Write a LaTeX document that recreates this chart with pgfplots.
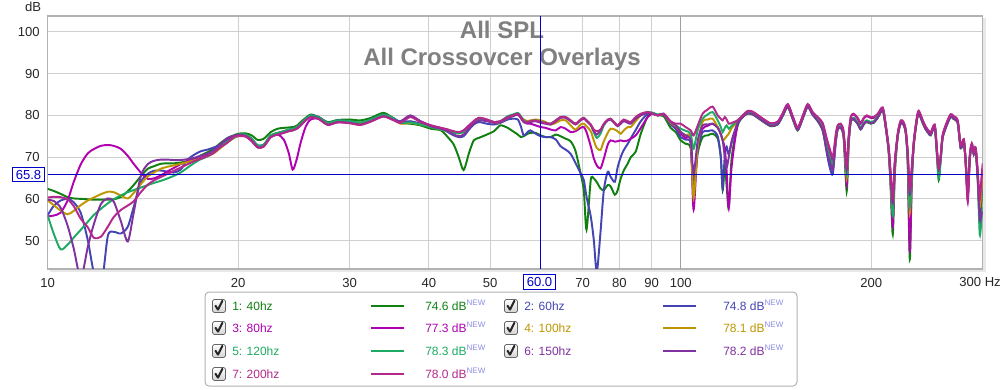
\documentclass[border=0pt]{standalone}
\usepackage{pgfplots}
\usepackage{pgfplotstable}
\pgfplotsset{compat=1.18}
\usepackage{fontspec}
\setmainfont{Liberation Sans}
\definecolor{c1}{RGB}{16,128,16}
\definecolor{c2}{RGB}{68,68,180}
\definecolor{c3}{RGB}{176,0,176}
\definecolor{c4}{RGB}{190,150,0}
\definecolor{c5}{RGB}{30,170,100}
\definecolor{c6}{RGB}{128,50,160}
\definecolor{c7}{RGB}{180,40,140}
\definecolor{cur}{RGB}{0,0,200}
\definecolor{newc}{RGB}{140,140,230}

\pgfplotstableread{
f c1 c2 c3 c4 c5 c6 c7
10.00 62.4 56.1 55.8 59.6 56.0 59.8 60.3
10.22 61.9 58.3 56.0 58.5 51.7 59.5 60.5
10.48 61.2 59.6 56.7 57.2 47.9 57.9 60.4
10.75 60.4 60.0 59.6 56.3 49.0 53.6 59.9
10.99 60.1 59.2 64.0 57.1 50.7 48.2 58.3
11.28 60.0 56.6 68.3 58.5 52.6 41.0 55.2
11.57 59.9 50.1 70.9 59.6 54.5 48.5 53.2
11.82 59.8 42.5 71.9 60.3 56.1 53.8 50.7
12.13 59.8 38.0 72.7 61.1 57.6 58.7 50.9
12.44 59.8 51.0 72.9 61.7 58.9 60.1 53.3
12.71 59.9 52.1 72.7 61.6 59.9 59.4 55.6
13.04 60.4 51.7 72.0 60.8 60.8 54.8 57.3
13.38 61.8 53.3 70.3 60.1 61.6 49.8 58.4
13.67 63.3 58.0 68.4 61.4 62.1 56.6 59.4
14.03 65.4 64.0 66.3 63.5 62.7 65.5 61.6
14.39 67.2 66.0 64.8 65.4 63.3 68.3 63.4
14.71 67.8 66.7 64.9 66.3 63.8 69.1 64.4
15.08 68.4 66.8 65.6 67.2 64.3 69.4 65.2
15.47 68.5 66.5 66.6 67.7 64.9 69.4 66.0
15.82 68.5 66.3 67.4 68.0 65.5 69.3 66.7
16.22 68.7 67.0 68.3 68.4 66.3 69.3 67.5
16.64 69.0 69.4 69.0 68.8 67.5 69.5 68.3
17.01 69.6 70.5 69.4 69.2 68.5 69.8 69.0
17.45 70.4 71.4 69.8 69.6 69.5 70.3 69.6
17.90 71.2 71.8 70.5 70.2 70.2 70.9 70.3
18.29 72.0 72.3 71.2 70.9 71.2 71.6 71.0
18.76 73.4 73.0 72.5 72.2 72.5 73.1 72.4
19.25 74.6 74.3 74.0 73.6 73.8 74.6 73.5
19.67 75.2 75.0 74.7 74.5 74.6 75.1 74.8
20.00 75.6 75.4 75.0 75.2 75.4 75.3 75.2
20.55 75.7 75.3 74.9 75.0 75.4 75.1 75.0
21.00 75.2 74.4 73.8 74.0 74.4 74.0 73.9
21.47 74.1 72.8 72.3 72.5 72.8 72.4 72.3
21.94 74.4 73.0 72.6 72.7 73.0 72.6 72.5
22.51 76.0 75.2 74.8 75.0 75.2 74.8 74.8
23.08 76.8 75.8 75.4 75.6 75.8 75.4 75.4
23.60 77.0 76.2 74.2 76.0 76.2 75.8 75.8
24.03 77.1 76.6 71.0 76.3 76.6 76.2 76.2
24.38 77.2 76.8 67.0 76.5 76.8 76.4 76.4
24.74 77.5 77.2 69.5 76.9 77.2 76.8 76.8
25.10 78.4 78.0 73.5 77.7 78.0 77.6 77.6
25.56 79.4 79.2 77.3 78.9 79.2 78.8 78.8
26.03 80.2 80.0 79.0 79.7 80.0 79.6 79.5
26.80 79.6 79.6 79.2 79.3 79.5 79.2 79.1
27.69 78.4 78.2 77.8 78.0 78.2 77.8 77.7
28.72 78.9 78.8 78.4 78.6 78.8 78.4 78.3
30.00 79.0 78.6 78.2 78.4 78.6 78.2 78.1
31.20 78.8 78.2 77.8 78.0 78.3 77.8 77.7
32.40 79.4 79.0 78.6 78.8 79.0 78.6 78.5
33.90 80.6 80.2 79.8 80.0 80.2 79.8 79.7
35.10 79.4 79.4 79.0 79.2 79.4 79.0 78.9
36.10 78.2 78.4 78.4 78.0 78.2 78.6 78.2
37.40 78.0 78.6 79.8 78.2 78.3 80.0 79.6
38.80 77.6 78.0 78.6 77.8 77.8 78.6 78.4
40.30 76.8 77.2 77.6 77.2 77.2 77.4 77.6
41.80 76.4 76.8 77.0 76.6 76.6 76.8 77.0
42.85 74.8 76.0 76.6 76.2 76.2 76.2 76.6
43.80 73.0 75.2 76.0 75.8 75.8 75.4 76.2
44.60 70.0 74.8 75.8 75.7 75.7 75.0 76.0
45.40 66.9 75.0 76.4 76.0 76.0 75.4 76.4
46.30 71.0 76.6 77.6 77.0 77.0 76.8 77.4
47.10 74.0 77.8 78.6 78.2 78.2 78.0 78.6
48.00 74.6 78.4 79.4 79.2 79.2 78.8 79.4
49.40 75.4 78.0 79.0 78.8 78.8 78.6 79.0
50.70 76.2 77.8 78.4 78.2 78.4 78.2 78.4
51.90 77.6 78.2 78.6 78.4 78.6 78.4 78.6
53.30 77.0 79.0 79.6 79.4 79.8 79.4 79.6
54.30 76.2 79.2 80.0 79.8 80.2 79.8 80.0
55.30 75.4 79.0 80.2 80.2 80.6 80.2 80.4
55.90 74.8 77.4 79.4 79.6 79.8 79.4 79.6
56.50 75.0 75.2 78.4 79.0 78.8 78.4 78.6
57.30 75.6 76.0 78.0 78.6 78.4 78.2 78.4
57.90 75.8 76.4 78.0 78.8 78.6 78.4 78.6
59.00 75.8 75.6 77.6 79.0 78.8 78.6 78.8
60.10 75.2 75.0 77.2 78.8 78.4 78.2 78.4
61.20 74.8 74.8 77.0 78.4 78.2 78.0 78.2
62.30 74.8 74.8 76.6 77.8 78.0 77.8 78.0
63.50 75.4 74.2 76.4 78.2 78.8 78.6 78.8
64.60 75.0 72.6 77.2 78.8 79.6 79.4 79.6
65.80 74.4 71.8 76.8 78.8 79.6 79.4 79.6
67.00 73.8 70.8 76.0 77.6 78.8 78.6 78.8
68.20 71.5 68.6 76.2 76.6 78.0 77.8 78.0
69.50 66.0 66.1 77.0 77.8 79.0 78.8 79.0
70.30 62.0 64.5 77.2 78.0 79.4 79.2 79.4
71.00 52.6 60.5 76.0 77.4 78.8 78.6 78.8
72.10 64.5 55.8 72.6 76.2 77.8 77.6 77.8
72.90 64.9 50.2 69.7 74.0 76.0 76.2 76.6
73.70 64.0 42.5 68.0 72.2 74.6 75.4 76.2
74.70 62.5 52.0 67.3 71.7 75.6 76.4 76.6
75.60 62.1 62.0 69.6 73.8 77.6 77.8 78.0
76.70 63.3 66.5 73.0 75.8 78.8 78.8 79.0
77.50 63.0 65.3 74.0 76.8 79.2 79.0 79.2
78.70 61.0 64.1 73.7 76.6 78.2 78.0 78.2
79.50 62.0 67.5 73.8 76.2 77.6 77.4 77.6
80.40 64.9 70.0 74.0 75.6 78.2 78.0 78.4
81.30 66.8 71.7 73.8 76.4 78.8 78.6 79.0
82.50 68.5 73.2 74.0 77.2 78.4 78.2 78.6
83.40 70.0 74.5 74.4 77.2 78.2 78.0 78.4
84.90 71.3 76.5 75.2 78.6 79.4 79.2 79.6
86.50 75.6 78.6 77.0 80.0 80.2 80.0 80.4
88.70 79.8 80.4 79.6 80.8 80.8 80.6 80.8
90.30 80.6 80.6 80.4 80.4 80.6 80.4 80.4
92.00 80.0 80.0 80.0 80.0 80.2 80.0 80.0
94.00 79.8 80.2 80.2 80.2 80.4 80.2 80.4
96.40 77.0 77.8 78.2 78.2 78.4 78.4 78.6
98.20 76.0 76.8 77.2 77.4 77.6 77.6 78.0
100.0 74.0 74.8 75.6 76.0 76.8 76.0 78.0
101.8 73.2 74.2 74.6 75.2 76.3 75.2 77.2
103.7 72.1 73.3 73.7 74.4 75.6 74.0 76.4
104.8 62.1 63.0 57.4 60.2 72.0 66.0 75.2
106.4 71.0 72.0 73.0 72.8 76.5 74.0 77.6
108.3 74.8 76.0 76.8 78.4 79.2 77.6 80.4
110.3 75.2 76.2 77.5 79.0 80.2 77.8 81.4
112.3 75.6 76.4 78.0 79.2 80.8 78.0 82.1
114.4 74.5 75.0 77.2 77.2 78.8 77.0 80.0
115.7 70.0 70.0 75.5 75.5 77.2 75.5 79.2
116.5 62.1 62.5 74.0 74.0 76.0 74.0 78.8
117.4 68.0 70.5 72.0 74.4 77.0 70.0 79.6
118.2 63.0 72.5 66.5 75.0 77.6 67.5 79.0
119.1 57.8 70.6 57.8 75.6 76.8 70.0 78.0
120.4 70.0 73.5 68.0 77.0 77.5 74.0 78.2
123.0 77.5 78.0 78.0 78.4 78.8 78.2 78.8
125.3 79.6 79.6 79.6 79.8 80.0 79.8 80.0
127.6 80.4 80.6 81.0 80.7 80.8 80.5 81.1
129.9 80.2 80.4 80.8 80.5 80.6 80.3 80.9
132.3 79.4 79.6 80.0 79.7 79.8 79.5 80.1
135.2 78.4 78.6 79.0 78.7 78.8 78.5 79.1
138.8 77.4 77.6 78.0 77.7 77.8 77.5 78.1
142.3 77.8 78.0 78.4 78.1 78.2 77.9 78.5
144.9 79.8 80.0 80.4 80.1 80.2 79.9 80.5
147.6 82.0 82.2 82.6 82.3 82.4 82.1 82.7
150.3 79.1 79.3 79.7 79.4 79.5 79.2 79.8
153.0 76.4 76.6 77.0 76.7 76.8 76.5 77.1
155.8 79.1 79.3 79.7 79.4 79.5 79.2 79.8
158.7 82.0 82.2 82.6 82.3 82.4 82.1 82.7
161.6 80.1 80.3 80.7 80.4 80.5 80.2 80.8
164.6 78.6 78.8 79.4 78.9 79.0 78.7 79.6
167.6 76.4 76.6 78.0 76.8 76.8 76.5 78.2
170.1 72.0 71.0 74.0 72.2 72.5 71.5 74.5
172.0 70.0 67.5 71.0 69.5 70.0 69.0 72.0
173.9 68.5 66.0 69.5 67.5 68.0 67.0 70.0
175.8 74.0 73.5 75.0 74.2 74.5 74.0 75.5
177.0 76.6 76.8 77.4 76.9 77.0 76.7 77.6
179.0 77.0 77.2 77.8 77.3 77.4 77.1 78.0
180.9 74.5 75.3 75.5 75.2 75.5 75.2 76.2
182.9 61.8 66.5 63.5 65.0 66.0 67.0 68.0
184.2 72.5 74.0 73.5 73.5 74.0 74.0 75.0
185.6 78.4 78.6 79.4 78.7 78.8 78.5 79.6
187.6 79.0 79.2 80.2 79.3 79.4 79.1 80.4
190.4 77.9 78.1 79.2 78.2 78.3 78.0 79.4
192.5 76.6 76.8 78.0 76.9 77.0 76.7 78.2
194.6 77.8 78.0 79.2 78.1 78.2 77.9 79.4
196.7 78.4 78.6 79.8 78.7 78.8 78.5 80.0
199.6 78.0 78.2 79.4 78.3 78.4 78.1 79.6
201.8 78.2 78.4 79.4 78.5 78.6 78.3 79.6
204.8 79.4 79.6 80.2 79.7 79.8 79.5 80.4
208.5 81.2 81.4 81.8 81.5 81.6 81.3 81.9
210.8 77.1 77.3 77.7 77.4 77.5 77.2 77.8
213.1 71.0 71.8 71.5 71.9 72.0 71.7 72.3
214.7 62.0 65.0 63.0 64.0 64.0 65.0 66.0
216.3 51.5 58.0 53.5 57.0 56.0 59.0 60.0
217.9 66.0 68.5 67.0 68.0 68.0 68.5 69.0
220.3 75.1 75.3 75.7 75.4 75.5 75.2 75.8
222.7 78.1 78.3 78.7 78.4 78.5 78.2 78.8
225.1 77.6 77.8 78.2 77.9 78.0 77.7 78.3
226.8 75.6 75.8 76.2 75.9 76.0 75.7 76.3
228.4 68.0 70.5 69.0 70.0 69.5 70.5 71.0
230.1 45.5 60.0 47.5 56.5 58.0 61.0 62.0
231.7 63.0 66.5 64.0 66.0 65.5 66.5 67.5
233.5 73.1 73.3 73.7 73.4 73.5 73.2 73.8
236.0 78.6 78.8 79.2 78.9 79.0 78.7 79.3
237.7 80.4 80.6 81.0 80.7 80.8 80.5 81.1
241.2 78.1 78.3 78.7 78.4 78.5 78.2 78.8
243.8 76.6 76.8 77.2 76.9 77.0 76.7 77.3
246.5 75.6 75.8 76.2 75.9 76.0 75.7 76.3
248.3 75.2 75.4 75.8 75.5 75.6 75.3 75.9
251.9 77.1 77.3 77.7 77.4 77.5 77.2 77.8
253.8 71.0 71.8 72.2 71.9 71.5 71.7 72.3
255.6 64.5 67.0 66.0 67.0 65.0 67.0 67.5
257.5 69.5 70.0 70.2 70.0 69.5 70.0 70.5
259.3 74.6 74.8 75.2 74.9 75.0 74.7 75.3
263.2 77.6 77.8 78.2 77.9 78.0 77.7 78.3
267.0 79.6 79.8 80.2 79.9 80.0 79.7 80.3
269.9 79.1 79.3 79.7 79.4 79.5 79.2 79.8
273.9 78.1 78.3 78.7 78.4 78.5 78.2 78.8
276.9 72.1 72.3 72.7 72.4 72.5 72.2 72.8
280.0 73.6 73.8 74.2 73.9 74.0 73.7 74.3
282.0 68.6 68.8 68.5 68.9 69.0 68.7 68.5
284.1 62.0 61.5 59.4 61.0 62.0 60.5 59.8
286.2 69.6 69.8 70.2 69.9 70.0 69.7 70.3
288.3 72.6 72.8 73.2 72.9 73.0 72.7 73.3
290.4 70.6 70.8 71.2 70.9 71.0 70.7 71.3
292.4 71.6 71.8 72.2 71.9 72.0 71.7 72.3
294.6 65.0 65.5 66.2 65.8 64.5 65.0 66.5
296.8 55.0 58.0 57.0 58.0 51.4 55.0 60.0
298.9 60.0 62.0 64.0 63.0 56.0 56.5 66.0
300.0 62.0 64.0 67.0 65.0 58.0 57.0 68.5
}\data

\newcommand{\cb}[2]{%
  \draw[black!60, rounded corners=1.2pt, top color=white, bottom color=gray!35, line width=0.6pt] (#1-6.5,#2-6.5) rectangle (#1+6.5,#2+6.5);
  \draw[black!85, line width=1.5pt, line cap=round, line join=round] (#1-3.5,#2+0.2) -- (#1-1,#2-3.6) -- (#1+3.4,#2+5.2);
}
\newcommand{\litem}[7]{% cbx, y, color, label, linex, valx, value
  \cb{#1}{#2}
  \node[anchor=base west, text=#3, inner sep=0] at (#1+13,#2-4.3) {#4};
  \draw[#3, line width=1.6pt] (#5,#2) -- (#5+33,#2);
  \node[anchor=base west, text=#3, inner sep=0] at (#6,#2-4.3) {#7 dB\textsuperscript{\textcolor{newc}{NEW}}};
}

\begin{document}
\begin{tikzpicture}[x=0.75pt,y=0.75pt]
\useasboundingbox (0,0) rectangle (1005,389);
% shadow of frame
\fill[gray!18] (50,117) rectangle (986,371);
\begin{axis}[
  at={(35.775pt,90pt)}, anchor=south west,
  scale only axis, width=701.25pt, height=189.75pt,
  xmode=log, xmin=10, xmax=300, ymin=43.2, ymax=103.8,
  axis background/.style={fill=white},
  xtick={10,20,30,40,50,60,70,80,90,100,200,300},
  xticklabels={10,20,30,40,50,,70,80,90,100,200,},
  ytick={50,60,70,80,90,100},
  grid=major, major grid style={color=gray!38, line width=0.75pt},
  tick style={draw=none},
  axis line style={draw=gray!60, line width=1pt},
  ticklabel style={font=\fontsize{9.8}{11}\selectfont, text=black!85},
  xticklabel style={yshift=-3.3pt},
  yticklabel style={xshift=-2.5pt},
  /pgf/number format/assume math mode=true,
  every axis plot/.append style={line width=1.45pt, smooth, tension=0.45},
]
\draw[gray!75, line width=0.9pt] (axis cs:100,43.2) -- (axis cs:100,103.8);
\addplot[c1] table[x=f, y=c1] {\data};
\addplot[c2] table[x=f, y=c2] {\data};
\addplot[c3] table[x=f, y=c3] {\data};
\addplot[c4] table[x=f, y=c4] {\data};
\addplot[c5] table[x=f, y=c5] {\data};
\addplot[c6] table[x=f, y=c6] {\data};
\addplot[c7] table[x=f, y=c7] {\data};
\node[anchor=base, text=black!50, font=\bfseries\fontsize{18}{20}\selectfont, inner sep=0] at (axis cs:52.2,98.4) {All SPL};
\node[anchor=base, text=black!50, font=\bfseries\fontsize{18}{20}\selectfont, inner sep=0] at (axis cs:52.2,92.0) {All Crossovcer Overlays};
\draw[cur, line width=0.75pt] (axis cs:60,43.2) -- (axis cs:60,103.8);
\draw[cur, line width=0.75pt] (axis cs:10,65.8) -- (axis cs:300,65.8);
\end{axis}
\begin{scope}[font=\fontsize{9.8}{11}\selectfont]
\node[text=black!85] at (33,382) {dB};
\node[anchor=east, text=black!85, inner sep=0] at (1001,106.5) {300 Hz};
\node[draw=cur, fill=white, text=cur, inner xsep=2.2pt, inner ysep=0pt, minimum height=10.8pt, line width=0.75pt] at (28.5,214.4) {65.8};
\node[draw=cur, fill=white, text=cur, inner xsep=2.2pt, inner ysep=0pt, minimum height=10.8pt, line width=0.75pt] at (539.5,107) {60.0};
\end{scope}
% legend
\draw[gray!60, fill=white, rounded corners=3pt, line width=0.75pt] (205,3) rectangle (797,97);
\begin{scope}[font=\fontsize{9}{10}\selectfont]
\litem{219}{83}{c1}{1: 40hz}{371}{425}{74.6}
\litem{511}{83}{c2}{2: 60hz}{663}{723}{74.8}
\litem{219}{61}{c3}{3: 80hz}{371}{425}{77.3}
\litem{511}{61}{c4}{4: 100hz}{663}{723}{78.1}
\litem{219}{38}{c5}{5: 120hz}{371}{425}{78.3}
\litem{511}{38}{c6}{6: 150hz}{663}{723}{78.2}
\litem{219}{15}{c7}{7: 200hz}{371}{425}{78.0}
\end{scope}
\end{tikzpicture}
\end{document}
